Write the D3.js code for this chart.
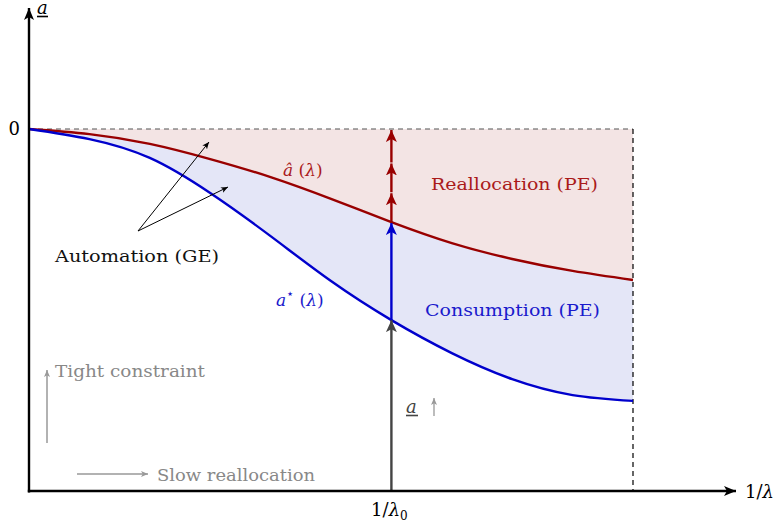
<!DOCTYPE html>
<meta charset="utf-8">
<head>
  <style>
    html, body { margin: 0; padding: 0; background: #fff; }
  </style>
  <script src="https://d3js.org/d3.v7.min.js"></script>
</head>
<body>
  <div id="my_dataviz"></div>
  <script>

    // Curve values (x = 1/lambda, arbitrary units; y = a, zero at the top)
    const lambdaInv = [0, 1, 2, 3, 4, 5, 6, 7, 8, 9, 10];
    const aHat = [0, -0.14, -0.41, -0.83, -1.33, -1.93, -2.57, -3.15, -3.59, -3.92, -4.17];
    const aStar = [0, -0.28, -0.80, -1.77, -2.96, -4.20, -5.28, -6.19, -6.91, -7.35, -7.51];
    const lambda0 = 6;
    const aLow = -10;

    const width = 779, height = 529;
    const serif = "DejaVu Serif";

    const svg = d3.select("#my_dataviz")
      .append("svg")
      .attr("width", width)
      .attr("height", height)
      .style("font-family", serif);

    const x = d3.scaleLinear().domain([0, 10]).range([29, 633]);
    const y = d3.scaleLinear().domain([aLow, 0]).range([491, 129]);

    const data = lambdaInv.map((v, i) => ({ x: v, hat: aHat[i], star: aStar[i] }));
    const curve = d3.curveNatural;

    // arrow heads
    const defs = svg.append("defs");
    function marker(id, color, w, h) {
      defs.append("marker")
        .attr("id", id)
        .attr("viewBox", `0 ${-h} ${w} ${2 * h}`)
        .attr("refX", w)
        .attr("refY", 0)
        .attr("markerUnits", "userSpaceOnUse")
        .attr("markerWidth", w)
        .attr("markerHeight", 2 * h)
        .attr("orient", "auto")
        .append("path")
        .attr("d", `M0,${-h} L${w},0 L0,${h} L${w * 0.25},0 Z`)
        .attr("fill", color);
    }
    marker("ax", "#000", 12, 5);
    marker("blk", "#000", 7, 3);
    marker("gry", "#999", 7, 3);
    marker("dgry", "#444", 12, 5.5);
    marker("blu", "#0000cc", 12, 5.5);
    marker("red", "#990000", 12, 5.5);

    // shaded regions
    svg.append("path")
      .datum(data)
      .attr("fill", "#f3e4e4")
      .attr("d", d3.area().curve(curve)
        .x(d => x(d.x)).y0(y(0)).y1(d => y(d.hat)));

    svg.append("path")
      .datum(data)
      .attr("fill", "#e4e6f7")
      .attr("d", d3.area().curve(curve)
        .x(d => x(d.x)).y0(d => y(d.hat)).y1(d => y(d.star)));

    // dashed frame
    svg.append("line")
      .attr("x1", x(0)).attr("x2", x(10))
      .attr("y1", y(0)).attr("y2", y(0))
      .attr("stroke", "#555").attr("stroke-width", 1.2)
      .attr("stroke-dasharray", "5,4");
    svg.append("line")
      .attr("x1", x(10)).attr("x2", x(10))
      .attr("y1", y(0)).attr("y2", y(aLow))
      .attr("stroke", "#000").attr("stroke-width", 1.2)
      .attr("stroke-dasharray", "5,4");

    // curves
    svg.append("path")
      .datum(data)
      .attr("fill", "none")
      .attr("stroke", "#990000")
      .attr("stroke-width", 2.4)
      .attr("d", d3.line().curve(curve).x(d => x(d.x)).y(d => y(d.hat)));

    svg.append("path")
      .datum(data)
      .attr("fill", "none")
      .attr("stroke", "#0000cc")
      .attr("stroke-width", 2.4)
      .attr("d", d3.line().curve(curve).x(d => x(d.x)).y(d => y(d.star)));

    // values at lambda0
    const hat0 = aHat[lambdaInv.indexOf(lambda0)];
    const star0 = aStar[lambdaInv.indexOf(lambda0)];

    // vertical arrows at 1/lambda0
    svg.append("line")
      .attr("x1", x(lambda0)).attr("x2", x(lambda0))
      .attr("y1", y(aLow)).attr("y2", y(star0))
      .attr("stroke", "#444").attr("stroke-width", 2.4)
      .attr("marker-end", "url(#dgry)");
    svg.append("line")
      .attr("x1", x(lambda0)).attr("x2", x(lambda0))
      .attr("y1", y(star0)).attr("y2", y(hat0) + 1)
      .attr("stroke", "#0000cc").attr("stroke-width", 2.4)
      .attr("marker-end", "url(#blu)");
    const redStops = [hat0, hat0 + (0 - hat0) * 0.32, hat0 + (0 - hat0) * 0.64, 0];
    for (let i = 0; i < 3; i++) {
      svg.append("line")
        .attr("x1", x(lambda0)).attr("x2", x(lambda0))
        .attr("y1", y(redStops[i])).attr("y2", y(redStops[i + 1]) + 1)
        .attr("stroke", "#990000").attr("stroke-width", 2.4)
        .attr("marker-end", "url(#red)");
    }

    // axes
    svg.append("line")
      .attr("x1", x(0)).attr("x2", x(0))
      .attr("y1", y(aLow) + 1.5).attr("y2", 8)
      .attr("stroke", "#000").attr("stroke-width", 2.4)
      .attr("marker-end", "url(#ax)");
    svg.append("line")
      .attr("x1", x(0) - 1.2).attr("x2", 736)
      .attr("y1", y(aLow)).attr("y2", y(aLow))
      .attr("stroke", "#000").attr("stroke-width", 2.4)
      .attr("marker-end", "url(#ax)");

    // tick at 1/lambda0
    svg.append("text")
      .attr("x", x(lambda0) - 2).attr("y", 516)
      .attr("text-anchor", "middle")
      .style("font-size", "18px")
      .html('1/<tspan font-style="italic">λ</tspan><tspan font-size="12px" dy="4">0</tspan>');

    svg.append("text")
      .attr("x", 745).attr("y", 498)
      .style("font-size", "18px")
      .html('1/<tspan font-style="italic">λ</tspan>');

    svg.append("text")
      .attr("x", 20).attr("y", y(0) + 6)
      .attr("text-anchor", "end")
      .style("font-size", "18px")
      .text("0");

    // y axis title: underlined a
    svg.append("text")
      .attr("x", 37).attr("y", 14)
      .style("font-size", "18px")
      .style("font-style", "italic")
      .text("a");
    svg.append("line")
      .attr("x1", 37).attr("x2", 48).attr("y1", 16.5).attr("y2", 16.5)
      .attr("stroke", "#000").attr("stroke-width", 1.6);

    // curve labels
    svg.append("text")
      .attr("x", 283).attr("y", 176)
      .attr("fill", "#aa1a1a")
      .style("font-size", "17px")
      .html('<tspan font-style="italic">â</tspan> (<tspan font-style="italic">λ</tspan>)');

    svg.append("text")
      .attr("x", 276).attr("y", 306)
      .attr("fill", "#1a1acc")
      .style("font-size", "17px")
      .html('<tspan font-style="italic">a</tspan><tspan font-size="13px" dy="-8">⋆</tspan><tspan dy="8"> (</tspan><tspan font-style="italic">λ</tspan>)');

    svg.append("text")
      .attr("x", 431).attr("y", 190)
      .attr("fill", "#aa1a1a")
      .attr("textLength", 167)
      .attr("lengthAdjust", "spacingAndGlyphs")
      .style("font-size", "17px")
      .text("Reallocation (PE)");

    svg.append("text")
      .attr("x", 425).attr("y", 316)
      .attr("fill", "#1a1acc")
      .attr("textLength", 175)
      .attr("lengthAdjust", "spacingAndGlyphs")
      .style("font-size", "17px")
      .text("Consumption (PE)");

    // automation annotation
    svg.append("text")
      .attr("x", 55).attr("y", 262)
      .attr("fill", "#111")
      .attr("textLength", 164)
      .attr("lengthAdjust", "spacingAndGlyphs")
      .style("font-size", "17px")
      .text("Automation (GE)");
    [[209, 142], [228, 187]].forEach(p => {
      svg.append("line")
        .attr("x1", 138).attr("y1", 231)
        .attr("x2", p[0]).attr("y2", p[1])
        .attr("stroke", "#000").attr("stroke-width", 1)
        .attr("marker-end", "url(#blk)");
    });

    // a-underline arrow label
    svg.append("text")
      .attr("x", 406).attr("y", 413)
      .attr("fill", "#444")
      .style("font-size", "18px")
      .style("font-style", "italic")
      .text("a");
    svg.append("line")
      .attr("x1", 406).attr("x2", 418).attr("y1", 415.5).attr("y2", 415.5)
      .attr("stroke", "#444").attr("stroke-width", 1.6);
    svg.append("line")
      .attr("x1", 434).attr("x2", 434).attr("y1", 416).attr("y2", 398)
      .attr("stroke", "#999").attr("stroke-width", 1.3)
      .attr("marker-end", "url(#gry)");

    // direction legend
    svg.append("line")
      .attr("x1", 47).attr("x2", 47).attr("y1", 443).attr("y2", 370)
      .attr("stroke", "#999").attr("stroke-width", 1.5)
      .attr("marker-end", "url(#gry)");
    svg.append("text")
      .attr("x", 55).attr("y", 377)
      .attr("fill", "#888")
      .attr("textLength", 150)
      .attr("lengthAdjust", "spacingAndGlyphs")
      .style("font-size", "17px")
      .text("Tight constraint");

    svg.append("line")
      .attr("x1", 77).attr("x2", 148).attr("y1", 474).attr("y2", 474)
      .attr("stroke", "#999").attr("stroke-width", 1.5)
      .attr("marker-end", "url(#gry)");
    svg.append("text")
      .attr("x", 157).attr("y", 481)
      .attr("fill", "#888")
      .attr("textLength", 158)
      .attr("lengthAdjust", "spacingAndGlyphs")
      .style("font-size", "17px")
      .text("Slow reallocation");

  </script>
</body>
